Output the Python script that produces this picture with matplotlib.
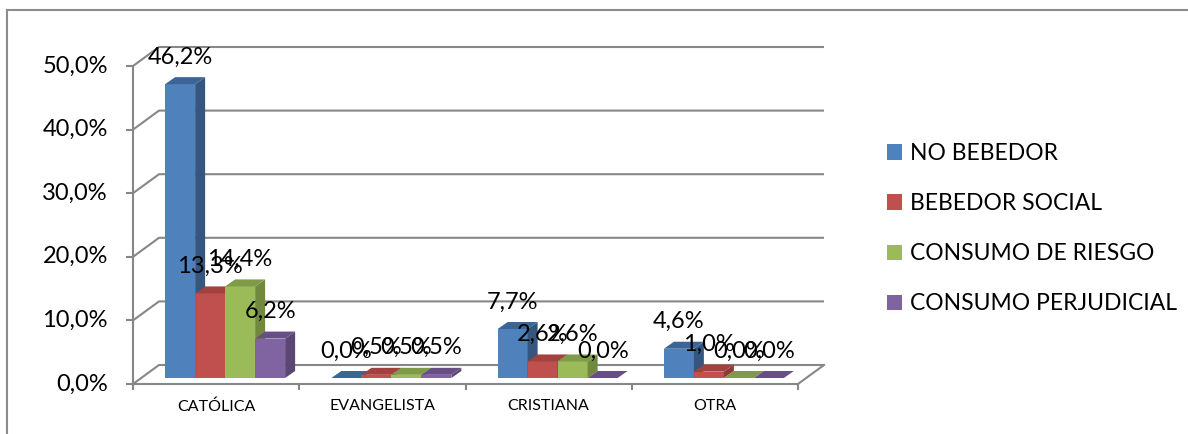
import matplotlib
matplotlib.use('Agg')
import matplotlib.pyplot as plt
from matplotlib.patches import Polygon, Patch
from matplotlib.lines import Line2D

# ---------------- data ----------------
categories = ['CATÓLICA', 'EVANGELISTA', 'CRISTIANA', 'OTRA']
series_names = ['NO BEBEDOR', 'BEBEDOR SOCIAL', 'CONSUMO DE RIESGO', 'CONSUMO PERJUDICIAL']
no_bebedor = [46.2, 0.0, 7.7, 4.6]
bebedor_social = [13.3, 0.5, 2.6, 1.0]
consumo_riesgo = [14.4, 0.5, 2.6, 0.0]
consumo_perjudicial = [6.2, 0.5, 0.0, 0.0]
yticks = [0, 10, 20, 30, 40, 50]
ytick_labels = ['0,0%', '10,0%', '20,0%', '30,0%', '40,0%', '50,0%']

series_values = [no_bebedor, bebedor_social, consumo_riesgo, consumo_perjudicial]
front_colors = ['#4F81BD', '#C0504D', '#9BBB59', '#8064A2']
side_colors = ['#34567F', '#8E3A38', '#71893F', '#5B4674']
top_colors = ['#3B6497', '#A1423F', '#7F9B48', '#674F85']
grid_color = '#878787'

plt.rcParams['font.family'] = ['Lato', 'DejaVu Sans']

W, H = 1188, 434
fig = plt.figure(figsize=(W / 100, H / 100), dpi=100)
fig.patch.set_facecolor('white')

# plot-area geometry in pixels (front plane)
x_left, x_right, y_bottom, y_top = 133, 798, 384, 66
ax = fig.add_axes([x_left / W, 1 - y_bottom / H, (x_right - x_left) / W, (y_bottom - y_top) / H])
ax.set_xlim(-0.5, 3.5)
ax.set_ylim(0, 50)
ax.patch.set_alpha(0)

px_x = (x_right - x_left) / 4.0
px_y = (y_bottom - y_top) / 50.0


def off(px, py):
    return px / px_x, py / px_y


wall_dx, wall_dy = off(26, 19)
bf_dx, bf_dy = off(9, 6)        # bar front plane offset
bd_dx, bd_dy = off(10, 7)       # bar depth
bw = 30 / px_x                   # bar width

# back wall gridlines + left wall diagonals
for v in yticks:
    ax.plot([-0.5, -0.5 + wall_dx, 3.5 + wall_dx], [v, v + wall_dy, v + wall_dy],
            color=grid_color, lw=1.5, clip_on=False, zorder=1, solid_capstyle='butt')
# floor right edge
ax.plot([3.5, 3.5 + wall_dx], [0, wall_dy], color=grid_color, lw=1.5, clip_on=False, zorder=1)

# bars
for s, vals in enumerate(series_values):
    for c, h in enumerate(vals):
        x0 = c - 2 * bw + s * bw + bf_dx
        x1 = x0 + bw
        b = bf_dy
        z = 3 + c * 4 + s * 0.5
        ax.bar(x0, h, width=bw, bottom=b, align='edge', color=front_colors[s],
               linewidth=0, zorder=z, clip_on=False)
        side = Polygon([(x1, b), (x1 + bd_dx, b + bd_dy), (x1 + bd_dx, b + h + bd_dy), (x1, b + h)],
                       closed=True, facecolor=side_colors[s], edgecolor='none',
                       zorder=z, clip_on=False)
        top = Polygon([(x0, b + h), (x1, b + h), (x1 + bd_dx, b + h + bd_dy), (x0 + bd_dx, b + h + bd_dy)],
                      closed=True, facecolor=top_colors[s], edgecolor='none',
                      zorder=z, clip_on=False)
        ax.add_patch(side)
        ax.add_patch(top)
        ax.annotate(f'{h:.1f}%'.replace('.', ','), (x0 + bw / 2, b + h), xytext=(0, 27),
                    textcoords='offset pixels', ha='center', va='center',
                    fontsize=17, color='black', zorder=50, annotation_clip=False)

# axes styling
for sp in ['top', 'right']:
    ax.spines[sp].set_visible(False)
for sp in ['left', 'bottom']:
    ax.spines[sp].set_color(grid_color)
    ax.spines[sp].set_linewidth(1.5)
    ax.spines[sp].set_zorder(2)

ax.set_yticks(yticks)
ax.set_yticklabels([])
ax.tick_params(axis='y', length=5, width=1.5, color=grid_color)
for v, lab in zip(yticks, ytick_labels):
    ax.annotate(lab, (-0.5, v), xytext=(-25, 0), textcoords='offset pixels',
                ha='right', va='center', fontsize=17, color='black', annotation_clip=False)

ax.set_xticks(range(len(categories)))
ax.set_xticklabels(categories, fontsize=11.5)
ax.set_xticks([-0.5, 0.5, 1.5, 2.5, 3.5], minor=True)
ax.tick_params(axis='x', which='major', length=0, pad=11)
ax.tick_params(axis='x', which='minor', length=4.5, width=1.5, color=grid_color)

# legend
handles = [Patch(facecolor=c, edgecolor='none') for c in front_colors]
fig.legend(handles, series_names, loc='upper left', bbox_to_anchor=(887 / W, 1 - 143 / H),
           frameon=False, fontsize=16.5, handlelength=0.65, handleheight=0.65,
           handletextpad=0.35, labelspacing=1.27, borderaxespad=0, borderpad=0)

# outer chart frame
fig.add_artist(Line2D([7 / W, 7 / W], [0, 1 - 10 / H], transform=fig.transFigure, color='#8C8C8C', lw=1.5))
fig.add_artist(Line2D([7 / W, 1], [1 - 10 / H, 1 - 10 / H], transform=fig.transFigure, color='#8C8C8C', lw=1.5))

fig.savefig('out.png', dpi=100)
